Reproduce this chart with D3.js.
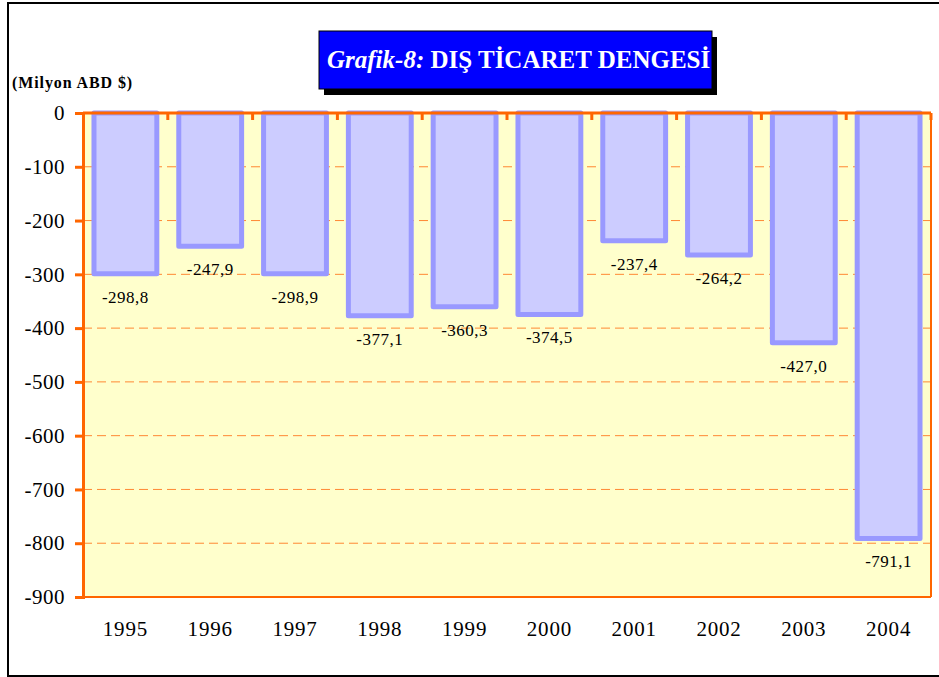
<!DOCTYPE html>
<html>
<head>
<meta charset="utf-8">
<script src="https://cdn.jsdelivr.net/npm/d3@7"></script>
<style>
  body { margin: 0; background: #fff; }
  svg text { font-family: "Liberation Serif", "Times New Roman", serif; }
</style>
</head>
<body>
<svg id="chart"></svg>
<script>
// data
var years = ["1995", "1996", "1997", "1998", "1999", "2000", "2001", "2002", "2003", "2004"];
var balance = [-298.8, -247.9, -298.9, -377.1, -360.3, -374.5, -237.4, -264.2, -427.0, -791.1];
var yTicks = [0, -100, -200, -300, -400, -500, -600, -700, -800, -900];

var width = 939, height = 677;
var plotLeft = 83, plotRight = 931, plotTop = 113, plotBottom = 597;
var orange = "#FF6600";

var svg = d3.select("#chart").attr("width", width).attr("height", height);

// outer frame
svg.append("rect")
  .attr("x", 8).attr("y", 3)
  .attr("width", 945).attr("height", 673)
  .attr("fill", "#fff").attr("stroke", "#000").attr("stroke-width", 2);

var xScale = d3.scaleBand().domain(years).range([plotLeft, plotRight]).paddingInner(0.2).paddingOuter(0.1);
var yScale = d3.scaleLinear().domain([-900, 0]).range([plotBottom, plotTop]);

// plot background
svg.append("rect")
  .attr("x", plotLeft).attr("y", plotTop)
  .attr("width", plotRight - plotLeft).attr("height", plotBottom - plotTop)
  .attr("fill", "#FFFFCC");

// dashed grid
svg.append("g").selectAll("line")
  .data(yTicks.filter(function(d) { return d !== 0 && d !== -900; }))
  .enter().append("line")
  .attr("x1", plotLeft).attr("x2", plotRight)
  .attr("y1", function(d) { return yScale(d); })
  .attr("y2", function(d) { return yScale(d); })
  .attr("stroke", "#FF8833").attr("stroke-width", 1)
  .attr("stroke-dasharray", "9,5");

// bars
svg.append("g").selectAll("rect")
  .data(balance)
  .enter().append("rect")
  .attr("x", function(d, i) { return xScale(years[i]) + 2.5; })
  .attr("y", plotTop)
  .attr("width", xScale.bandwidth() - 5)
  .attr("height", function(d) { return yScale(d) - plotTop; })
  .attr("fill", "#CCCCFF")
  .attr("stroke", "#9999FF")
  .attr("stroke-width", 5)
  .attr("stroke-linejoin", "round");

// value labels
svg.append("g").selectAll("text")
  .data(balance)
  .enter().append("text")
  .attr("x", function(d, i) { return xScale(years[i]) + xScale.bandwidth() / 2; })
  .attr("y", function(d) { return yScale(d) + 29; })
  .attr("text-anchor", "middle")
  .attr("font-size", "17px")
  .attr("letter-spacing", "0.5px")
  .attr("fill", "#000")
  .text(function(d) { return "-" + d3.format(".1f")(-d).replace(".", ","); });

// plot border right and bottom
svg.append("line").attr("x1", plotRight).attr("x2", plotRight).attr("y1", plotTop).attr("y2", plotBottom)
  .attr("stroke", orange).attr("stroke-width", 2);
svg.append("line").attr("x1", plotLeft).attr("x2", plotRight).attr("y1", plotBottom).attr("y2", plotBottom)
  .attr("stroke", orange).attr("stroke-width", 2);

// y axis
var yAxis = d3.axisLeft(yScale).tickValues(yTicks).tickSize(8).tickPadding(10);
var yg = svg.append("g").attr("transform", "translate(" + plotLeft + ",0)").call(yAxis);
yg.select(".domain").attr("stroke", orange).attr("stroke-width", 3);
yg.selectAll(".tick line").attr("stroke", orange).attr("stroke-width", 3);
yg.selectAll(".tick text")
  .attr("font-family", "Liberation Serif, serif")
  .attr("font-size", "21px").attr("fill", "#000")
  .attr("letter-spacing", "0.5px")
  .text(function(d) { return d === 0 ? "0" : "-" + (-d); });

// zero line (category axis) with ticks between categories
var step = (plotRight - plotLeft) / years.length;
var zg = svg.append("g");
zg.append("line").attr("x1", plotLeft).attr("x2", plotRight).attr("y1", plotTop).attr("y2", plotTop)
  .attr("stroke", orange).attr("stroke-width", 3);
zg.selectAll(".zt")
  .data(d3.range(1, years.length + 1))
  .enter().append("line")
  .attr("class", "zt")
  .attr("x1", function(i) { return plotLeft + i * step; })
  .attr("x2", function(i) { return plotLeft + i * step; })
  .attr("y1", plotTop).attr("y2", plotTop + 7)
  .attr("stroke", orange).attr("stroke-width", 3);

// year labels
svg.append("g").selectAll("text")
  .data(years)
  .enter().append("text")
  .attr("x", function(d) { return xScale(d) + xScale.bandwidth() / 2; })
  .attr("y", 636)
  .attr("text-anchor", "middle")
  .attr("font-size", "21px")
  .attr("letter-spacing", "0.8px")
  .text(function(d) { return d; });

// unit label
svg.append("text")
  .attr("x", 12).attr("y", 88)
  .attr("font-size", "16px").attr("font-weight", "bold")
  .attr("letter-spacing", "0.9px")
  .text("(Milyon ABD $)");

// title box
svg.append("rect").attr("x", 324).attr("y", 37).attr("width", 393).attr("height", 58).attr("fill", "#000");
svg.append("rect").attr("x", 319).attr("y", 31).attr("width", 393).attr("height", 58)
  .attr("fill", "#0000FF").attr("stroke", "#000").attr("stroke-width", 1);
var title = svg.append("text").attr("x", 327).attr("y", 68)
  .attr("fill", "#fff").attr("font-size", "25px").attr("font-weight", "bold");
title.append("tspan").attr("font-style", "italic").text("Grafik-8:");
title.append("tspan").text(" DIŞ TİCARET DENGESİ");
</script>
</body>
</html>
